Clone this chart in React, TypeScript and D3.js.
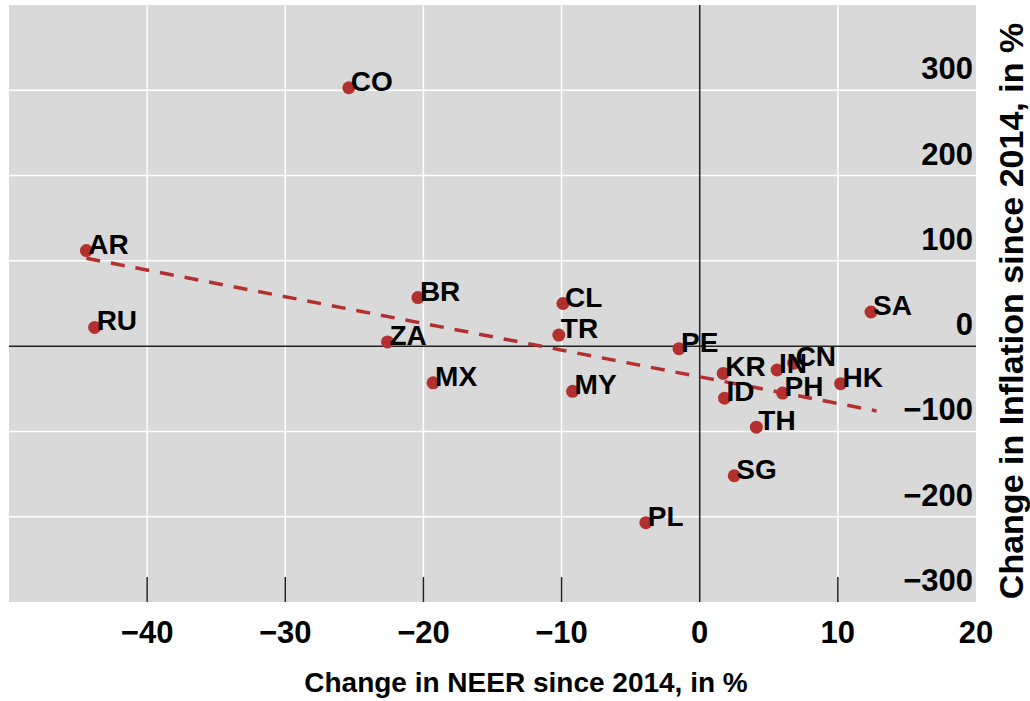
import React from 'react';
import * as d3 from 'd3';

// country codes with NEER change (x) and inflation change (y)
const codes = ['CO', 'AR', 'RU', 'BR', 'ZA', 'MX', 'CL', 'TR', 'PE', 'MY', 'PL', 'KR', 'ID', 'IN', 'CN', 'PH', 'HK', 'TH', 'SG', 'SA'];
const neer = [-25.4, -44.4, -43.8, -20.4, -22.6, -19.3, -9.9, -10.2, -1.5, -9.2, -3.9, 1.7, 1.8, 5.6, 6.8, 6.0, 10.2, 4.1, 2.5, 12.4];
const inflation = [303, 112, 22, 57, 5, -43, 50, 13, -3, -53, -207, -32, -61, -28, -20, -55, -44, -95, -152, 40];

// fitted trend line end points
const trendX = [-44.4, 12.8];
const trendY = [103, -76];

const xTicks = [-40, -30, -20, -10, 0, 10, 20];
const yTicks = [300, 200, 100, 0, -100, -200, -300];

const W = 1030;
const H = 701;
const FONT = '"Liberation Sans", Arial, sans-serif';
const RED = '#b2302e';

export default function App() {
    const x = d3.scaleLinear().domain([-50, 20]).range([9, 976]);
    const y = d3.scaleLinear().domain([-300, 400]).range([602, 5]);

    const points = codes.map((c, i) => ({ code: c, x: neer[i], y: inflation[i] }));
    const trend = d3.line<number>()
        .x(d => x(trendX[d]))
        .y(d => y(trendY[d]))([0, 1]) || '';

    const [x0, x1] = x.range();
    const [y0, y1] = y.range();
    const fmt = (t: number) => (t < 0 ? '\u2212' + Math.abs(t) : String(t));

    return (
        <svg width={W} height={H} style={{ position: 'absolute', left: 0, top: 0, background: '#fff' }}>
            <rect x={x0} y={y1} width={x1 - x0} height={y0 - y1} fill="#d9d9d9" />

            {/* grid */}
            {xTicks.filter(t => t !== 0 && t !== 20).map(t => (
                <line key={'gx' + t} x1={x(t)} x2={x(t)} y1={y1} y2={y0} stroke="#fff" strokeWidth={1.5} />
            ))}
            {yTicks.filter(t => t !== 0 && t !== -300).map(t => (
                <line key={'gy' + t} x1={x0} x2={x1} y1={y(t)} y2={y(t)} stroke="#fff" strokeWidth={1.5} />
            ))}

            {/* zero lines */}
            <line x1={x0} x2={x1} y1={y(0)} y2={y(0)} stroke="#222" strokeWidth={1.5} />
            <line x1={x(0)} x2={x(0)} y1={y1} y2={y0} stroke="#222" strokeWidth={1.5} />

            {/* inner tick marks on x */}
            {xTicks.filter(t => t !== 0 && t !== 20).map(t => (
                <line key={'tx' + t} x1={x(t)} x2={x(t)} y1={y0 - 25} y2={y0} stroke="#222" strokeWidth={1.5} />
            ))}

            {/* trend */}
            <path d={trend} fill="none" stroke={RED} strokeWidth={3.5} strokeDasharray="14,11" />

            {/* points */}
            {points.map(p => (
                <circle key={p.code} cx={x(p.x)} cy={y(p.y)} r={6.5} fill={RED} />
            ))}
            {points.map(p => (
                <text key={'l' + p.code} x={x(p.x) + 2} y={y(p.y) + 3} fontFamily={FONT} fontSize={28} fontWeight="bold" fill="#000">
                    {p.code}
                </text>
            ))}

            {/* x tick labels */}
            {xTicks.map(t => (
                <text key={'xl' + t} x={x(t)} y={643} textAnchor="middle" fontFamily={FONT} fontSize={31} fontWeight="bold" fill="#000">
                    {fmt(t)}
                </text>
            ))}

            {/* y tick labels (sit above their grid lines, as in the source) */}
            {yTicks.map(t => (
                <text key={'yl' + t} x={973} y={y(t) - 11} textAnchor="end" fontFamily={FONT} fontSize={31} fontWeight="bold" fill="#000">
                    {fmt(t)}
                </text>
            ))}

            <text x={526} y={692} textAnchor="middle" fontFamily={FONT} fontSize={28} fontWeight="bold" fill="#000">
                Change in NEER since 2014, in %
            </text>
            <text transform="translate(1023,311) rotate(-90)" textAnchor="middle" fontFamily={FONT} fontSize={34} fontWeight="bold" fill="#000">
                Change in Inflation since 2014, in %
            </text>
        </svg>
    );
}
